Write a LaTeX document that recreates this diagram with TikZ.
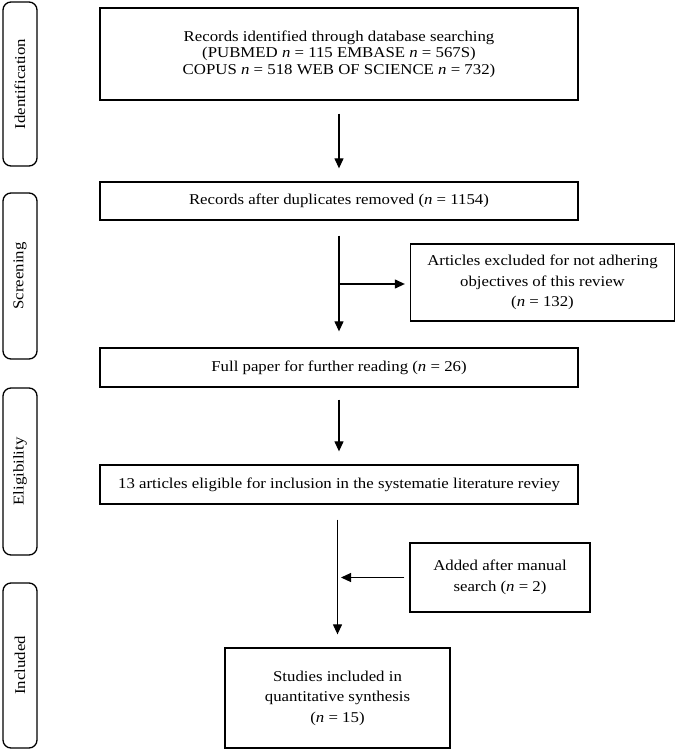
\documentclass[tikz,border=0pt]{standalone}
\usepackage{fontspec}
\setmainfont[FakeStretch=1.12]{Liberation Serif}
\usetikzlibrary{arrows.meta}
\newcommand{\nn}{\textit{n}}
\begin{document}
\begin{tikzpicture}[x=1pt,y=-1pt,
  box/.style={draw, line width=1.3pt, align=center, inner sep=2pt,
    font=\fontsize{15}{16.5}\selectfont},
  wide/.style={font=\fontsize{15}{20.5}\selectfont},
  side/.style={draw, line width=1.3pt, rounded corners=8pt, minimum height=34pt,
    font=\fontsize{15}{16}\selectfont},
  arr/.style={line width=1.2pt, -{Triangle[length=10pt,width=9pt]}}]
\useasboundingbox (0,0) rectangle (676,750);
% side labels
\node[side, minimum width=164pt, rotate=90] (s1) at (20,84) {Identification};
\node[side, minimum width=166pt, rotate=90] (s2) at (20,276) {Screening};
\node[side, minimum width=167pt, rotate=90] (s3) at (20,471.5) {Eligibility};
\node[side, minimum width=165pt, rotate=90] (s4) at (20,665.5) {Included};
% main boxes
\node[box, minimum width=478pt, minimum height=92pt] (b1) at (339,54)
  {Records identified through database searching\\(PUBMED \nn{} = 115 EMBASE \nn{} = 567S)\\COPUS \nn{} = 518 WEB OF SCIENCE \nn{} = 732)};
\node[box, minimum width=478pt, minimum height=38pt] (b2) at (339,201)
  {Records after duplicates removed (\nn{} = 1154)};
\node[box, wide, minimum width=264pt, minimum height=77pt] (ex) at (542.5,282.5)
  {Articles excluded for not adhering\\objectives of this review\\(\nn{} = 132)};
\node[box, minimum width=478pt, minimum height=39pt] (b3) at (339,367.5)
  {Full paper for further reading (\nn{} = 26)};
\node[box, minimum width=478pt, minimum height=39pt] (b4) at (339,484.5)
  {13 articles eligible for inclusion in the systematie literature reviey};
\node[box, wide, minimum width=180pt, minimum height=69pt] (ad) at (500,577.5)
  {Added after manual\\search (\nn{} = 2)};
\node[box, wide, minimum width=225pt, minimum height=100pt] (b5) at (337.5,698)
  {Studies included in\\quantitative synthesis\\(\nn{} = 15)};
% connectors
\coordinate (m1) at (339,284);
\coordinate (m2) at (339,577.5);
\draw[arr, shorten <=13pt, shorten >=13pt] (b1.south) -- (b2.north);
\draw[arr, shorten <=15pt, shorten >=16pt] (b2.south) -- (b3.north);
\draw[arr, shorten >=5pt] (m1) -- (ex.west |- m1);
\draw[arr, shorten <=12pt, shorten >=13pt] (b3.south) -- (b4.north);
\draw[arr, shorten <=15pt, shorten >=13pt] (b4.south -| b5.north) -- (b5.north);
\draw[arr, shorten <=5pt, shorten >=2pt] (ad.west) -- (m2);
\end{tikzpicture}
\end{document}
